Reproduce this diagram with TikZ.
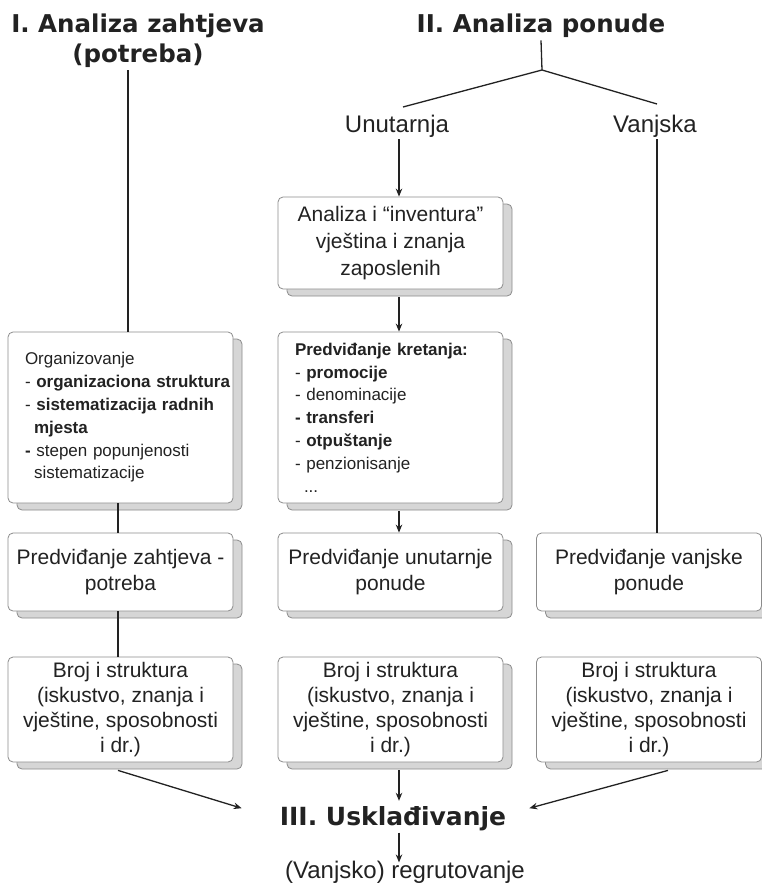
\documentclass[tikz,border=0pt]{standalone}
\usepackage{fontspec}
\setmainfont{Liberation Sans}
\newfontfamily\titlef{DejaVu Sans}
\usetikzlibrary{arrows.meta,shadows,calc}
\definecolor{ink}{HTML}{222222}
\definecolor{boxline}{HTML}{8C8C8C}
\definecolor{shade}{HTML}{D6D6D6}
\begin{document}
\begin{tikzpicture}[x=1pt,y=-1pt,
  card/.style={draw=boxline, line width=0.8pt, fill=white, rounded corners=5pt,
     minimum width=225pt, inner sep=0pt, align=center, text=ink,
     general shadow={shadow xshift=9pt, shadow yshift=-7pt, fill=shade, draw=boxline, line width=0.8pt}},
  listcard/.style={card, align=left, text width=191pt, inner xsep=17pt, inner ysep=0pt,
     minimum height=171pt, font=\fontsize{17}{22.8}\selectfont},
  predcard/.style={card, minimum height=78pt, font=\fontsize{21}{26}\selectfont},
  brojcard/.style={card, minimum height=105pt, font=\fontsize{21}{25}\selectfont},
  ttl/.style={font=\titlef\bfseries\fontsize{24.5}{30}\selectfont, text=ink, align=center, inner sep=2pt},
  lbl/.style={font=\fontsize{24}{28}\selectfont, text=ink, inner sep=2pt},
  ln/.style={draw=ink, line width=1.3pt},
  arr/.style={ln, -{Stealth[length=8pt,width=6.5pt]}}
]
\useasboundingbox (0,0) rectangle (762,891);
\fill[white] (0,0) rectangle (762,891);

\coordinate (xI) at (128,0);
\coordinate (xL) at (118,0);
\coordinate (xM) at (399,0);
\coordinate (xR) at (657,0);

% titles
\node[ttl, anchor=base] (t1) at (138,63) {I. Analiza zahtjeva\\(potreba)};
\node[ttl, anchor=base] (t2) at (541,33) {II. Analiza ponude};
\node[lbl, anchor=base] (u) at (397,132) {Unutarnja};
\node[lbl, anchor=base] (v) at (655,132) {Vanjska};
\coordinate (apex) at (542,70);
\coordinate (brL) at (403,107);
\coordinate (brR) at (657,104);

% boxes
\node[card, minimum height=92pt, font=\fontsize{21}{27}\selectfont] (a1) at (390.5,243)
  {Analiza i “inventura”\\vještina i znanja\\zaposlenih};
\node[listcard] (org) at (120.5,417.5)
  {Organizovanje\\
   \mbox{- \textbf{organizaciona struktura}}\\
   \mbox{- \textbf{sistematizacija radnih}}\\
   \hspace*{9pt}\textbf{mjesta}\\
   \textbf{-} stepen popunjenosti\\
   \hspace*{9pt}sistematizacije};
\node[listcard] (krt) at (390.5,417.5)
  {\textbf{Predviđanje kretanja:}\\
   - \textbf{promocije}\\
   - denominacije\\
   \textbf{- transferi}\\
   - \textbf{otpuštanje}\\
   - penzionisanje\\
   \hspace*{9pt}...};

\node[predcard] (p1) at (120.5,572) {Predviđanje zahtjeva -\\potreba};
\node[predcard] (p2) at (390.5,572) {Predviđanje unutarnje\\ponude};
\node[predcard] (p3) at (649,572) {Predviđanje vanjske\\ponude};

\node[brojcard] (b1) at (120.5,709.5) {Broj i struktura\\(iskustvo, znanja i\\vještine, sposobnosti\\i dr.)};
\node[brojcard] (b2) at (390.5,709.5) {Broj i struktura\\(iskustvo, znanja i\\vještine, sposobnosti\\i dr.)};
\node[brojcard] (b3) at (649,709.5) {Broj i struktura\\(iskustvo, znanja i\\vještine, sposobnosti\\i dr.)};

\node[ttl, font=\titlef\bfseries\fontsize{25}{30}\selectfont, anchor=base] (u3) at (393,825) {III. Usklađivanje};
\node[lbl, anchor=base] (rg) at (405,878) {(Vanjsko) regrutovanje};

% connectors
\draw[ln] (t1.south -| xI) -- (org.north -| xI);
\draw[ln] (org.south -| xL) -- (p1.north -| xL);
\draw[ln] (p1.south -| xL) -- (b1.north -| xL);
\draw[ln] (t2.south) -- (apex);
\draw[ln] (brL) -- (apex) -- (brR);
\draw[arr] (u.south -| xM) -- (a1.north -| xM);
\draw[arr] ($(a1.south -| xM)+(0,8)$) -- (krt.north -| xM);
\draw[arr] ($(krt.south -| xM)+(0,8)$) -- (p2.north -| xM);
\draw[ln] (v.south -| xR) -- (p3.north -| xR);
\draw[arr] ($(b1.south -| xL)+(0,8)$) -- ($(u3.west)+(-36,-10)$);
\draw[arr] ($(b2.south -| xM)+(0,8)$) -- ($(u3.north -| xM)+(0,-3)$);
\draw[arr] ($(b3.south)+(19,8)$) -- ($(u3.east)+(21,-10)$);
\draw[arr] (u3.south -| xM) -- ($(rg.north -| xM)+(0,4)$);
\end{tikzpicture}
\end{document}
